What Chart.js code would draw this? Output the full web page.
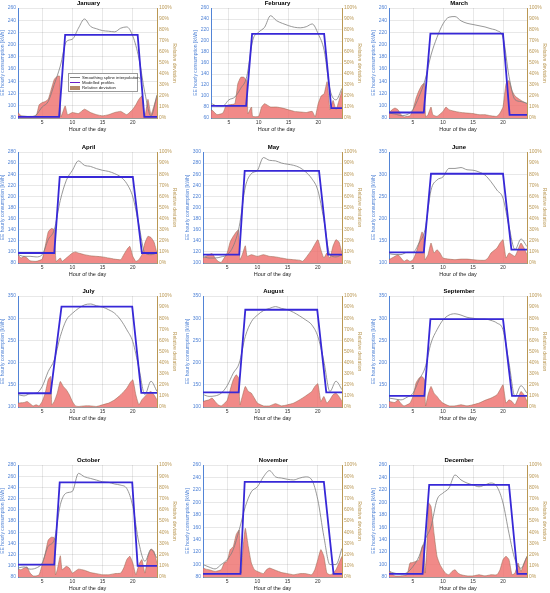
<!DOCTYPE html>
<html lang="en">
<head>
<meta charset="UTF-8">
<title>Monthly EE hourly consumption profiles</title>
<script src="https://cdn.jsdelivr.net/npm/chart.js@4"></script>
<style>
  body { margin: 0; background: #fff; width: 550px; height: 593px; position: relative; overflow: hidden;
         font-family: "Liberation Sans", Arial, sans-serif; }
  canvas { position: absolute; }
  /* legend box only on the January panel */
  .legenda { position: absolute; left: 68px; top: 73px; width: 66px; background: #fff; border: 0.6px solid #9a9a9a;
             font-size: 4.3px; line-height: 5.4px; padding: 0.5px 1px; color: #222; }
  .legenda div { white-space: nowrap; }
  .legenda span { display: inline-block; width: 10px; margin-right: 2px; vertical-align: middle; }
</style>
</head>
<body>
<div class="legenda">
  <div><span style="border-top:0.8px solid #808080"></span>Smoothing spline interpolation</div>
  <div><span style="border-top:1.4px solid #6a1fc8"></span>Modelled profiles</div>
  <div><span style="height:3.6px;background:#b58a6c"></span>Relative deviation</div>
</div>
<script>
// ---- data ----
const months = ["January", "February", "March", "April", "May", "June",
  "July", "August", "September", "October", "November", "December"];
const yMin = [80, 60, 80, 80, 100, 100, 100, 100, 100, 80, 80, 80];
const yMax = [260, 260, 260, 280, 300, 350, 350, 350, 350, 280, 260, 260];
const yStep = [20, 20, 20, 20, 20, 50, 50, 50, 50, 20, 20, 20];
const xStart = [1, 2, 1, 1, 1, 1, 1, 1, 1, 1, 1, 1];
const hourTicks = [5, 10, 15, 20];
const hours = [1, 2, 3, 4, 5, 6, 7, 8, 9, 10, 11, 12, 13, 14, 15, 16, 17, 18, 19, 20, 21, 22, 23, 24];

// smoothing spline (kWh) at each hour
const splineJan = [83, 83, 82, 85, 98, 107, 135, 165, 205, 209, 227, 242, 230, 226, 223, 222, 221, 227, 229, 214, 178, 121, 83, 118];
const splineFeb = [86, 86, 82, 82, 93, 98, 114, 135, 201, 216, 225, 246, 237, 232, 228, 225, 224, 226, 231, 213, 183, 111, 93, 114];
const splineMar = [88, 86.5, 84, 85.5, 94, 115, 142, 183, 212, 234, 245, 246, 239, 235, 233, 231, 229, 226, 223, 212, 148, 110, 107, 104];
const splineApr = [95, 92, 92, 91, 95, 122, 140, 193, 229, 247, 264, 256, 254, 250, 247, 245, 241, 235, 223, 199, 149, 98, 95, 98];
const splineMay = [112, 109, 109, 111, 115, 130, 166, 237, 261, 267, 290, 285, 284, 280, 278, 276, 272, 264, 252, 231, 178, 115, 111, 115];
const splineJun = [121, 119, 119, 124, 124, 145, 175, 264, 287, 294, 313, 313, 315, 310, 309, 305, 298, 283, 264, 246, 182, 130, 154, 137];
const splineJul = [128, 125, 130, 131, 146, 180, 206, 259, 296, 311, 322, 330, 332, 328, 325, 319, 311, 296, 274, 247, 188, 128, 158, 135];
const splineAug = [128, 124, 125, 131, 148, 176, 199, 259, 292, 307, 317, 322, 326, 322, 319, 313, 305, 296, 285, 259, 203, 135, 158, 139];
const splineSep = [120, 118, 116, 122, 131, 161, 188, 244, 274, 296, 307, 310, 307, 302, 300, 298, 298, 295, 289, 274, 199, 124, 148, 131];
const splineOct = [96, 98, 94, 96, 105, 135, 146, 209, 230, 233, 265, 259, 256, 253, 250, 249, 246, 244, 238, 206, 141, 108, 129, 114];
const splineNov = [100, 96, 93, 100, 108, 124, 156, 193, 217, 225, 241, 251, 241, 239, 237, 236, 239, 241, 236, 204, 145, 100, 100, 126];
const splineDec = [89, 86, 85, 87, 97, 113, 140, 161, 204, 215, 223, 244, 236, 231, 228, 225, 228, 231, 225, 199, 150, 108, 94, 113];

// modelled profile corners [hour, kWh]
const modelJan = [[1, 82], [7.8, 82], [8.8, 216], [20.8, 216], [21.9, 82], [24, 82]];
const modelFeb = [[1, 82], [7.9, 82], [8.9, 213], [21, 213], [22.2, 78], [24, 78]];
const modelMar = [[1, 89], [6.8, 89], [7.9, 218], [20, 218], [21.1, 85], [24, 85]];
const modelApr = [[1, 98], [7, 98], [7.9, 235], [20, 235], [21.5, 98], [24, 98]];
const modelMay = [[1, 115], [7, 115], [7.9, 266], [20.2, 266], [21.7, 115], [24, 115]];
const modelJun = [[1, 124], [6.8, 124], [8, 301], [20, 301], [21.4, 130], [24, 130]];
const modelJul = [[1, 131], [6.4, 131], [8.2, 326], [19.9, 326], [21.4, 132], [24, 132]];
const modelAug = [[1, 133], [6.9, 133], [8, 319], [19.9, 319], [21.4, 133], [24, 133]];
const modelSep = [[1, 125], [6.9, 125], [7.9, 298], [20, 298], [21.5, 125], [24, 125]];
const modelOct = [[1, 102], [7, 102], [7.9, 249], [19.9, 249], [20.8, 100], [24, 100]];
const modelNov = [[1, 85], [7.2, 85], [7.9, 233], [21, 233], [22.6, 85], [24, 85]];
const modelDec = [[1, 85], [6.6, 85], [7.7, 228], [21, 228], [22.4, 85], [24, 85]];

// relative deviation [hour, %]
const devJan = [[1, 5], [1.5, 2], [2, 1.5], [3, 1.5], [4, 2], [4.5, 12], [5, 14], [5.5, 15], [6, 17], [6.5, 26], [7, 35], [7.5, 38], [7.9, 38], [8.1, 1], [8.8, 11], [9.2, 3], [10, 5], [11, 4], [12, 8], [13, 5], [14, 3], [15, 2], [16, 3], [17, 5], [18, 6], [19, 3], [20, 8], [20.5, 12], [21, 17], [21.5, 20], [22, 1], [22.5, 17], [23, 3], [23.5, 11], [24, 20]];
const devFeb = [[1, 7], [2.2, 7], [3, 3], [4, 4.5], [4.5, 11], [5, 12], [6, 13], [6.5, 31], [7, 37], [7.5, 37], [8, 34], [8.2, 4], [8.8, 10], [9, 1.5], [10, 1.5], [10.5, 10], [11, 13], [12, 10], [13, 10], [14, 9], [15, 7.5], [16, 6], [17, 5.5], [18, 5], [19, 6], [19.5, 1], [20, 13], [20.5, 20], [21, 22], [21.5, 33], [22, 7.5], [22.5, 16], [23, 7.5], [23.5, 16], [24, 25]];
const devMar = [[1, 4.5], [1.5, 7.5], [2, 9], [2.5, 7.5], [3, 3], [3.5, 1], [4, 1.5], [4.5, 2], [5, 7.5], [5.5, 18], [6, 25], [6.5, 30], [6.9, 31.5], [7.1, 1], [7.5, 3], [8, 10], [8.3, 3], [9, 1.5], [10, 6], [10.5, 10], [11, 7.5], [12, 6], [13, 5], [14, 4.5], [15, 4], [16, 3], [17, 3], [18, 2], [19, 1.5], [19.5, 4.5], [20, 10], [20.5, 31], [21, 34], [21.5, 25], [22, 20], [23, 16], [24, 13]];
const devApr = [[1, 7.5], [1.5, 4.5], [2, 6], [2.5, 4.5], [3, 2], [4, 1.5], [5, 3.5], [5.5, 15], [6, 28], [6.5, 31], [7, 30], [7.3, 1.5], [8, 4.5], [8.3, 1.5], [9, 4.5], [10, 9], [10.5, 10], [11, 9], [12, 7.5], [13, 6.5], [14, 6], [15, 5.5], [16, 4.5], [17, 3.5], [18, 3], [18.5, 7.5], [19, 12], [19.5, 15], [20, 6], [20.5, 1.5], [21, 3], [21.5, 7.5], [22, 18], [22.5, 24], [23, 23], [23.5, 19], [24, 9]];
const devMay = [[1, 4.5], [2, 7.5], [2.5, 8.5], [3, 4.5], [3.5, 1.5], [4, 0.5], [4.5, 4.5], [5, 9], [5.5, 19], [6, 24], [6.5, 28], [6.9, 30], [7.1, 3], [7.5, 7.5], [8, 15.5], [8.3, 6], [9, 7.5], [10, 6], [11, 7.5], [12, 6], [13, 5.5], [14, 4.5], [15, 3.5], [16, 3], [17, 2.5], [17.5, 1.5], [18, 4.5], [19, 12], [20, 21], [20.5, 12], [21, 4.5], [21.5, 9], [22, 4.5], [22.5, 15], [23, 21], [23.5, 19], [24, 9]];
const devJun = [[1, 3], [2, 6], [2.5, 7.5], [3, 4.5], [3.5, 1.5], [4, 3], [4.5, 1.5], [5, 3], [5.5, 9], [6, 18], [6.5, 28], [6.8, 24], [7, 3], [7.5, 7.5], [8, 18], [8.5, 9], [9, 12], [9.5, 9], [10, 4.5], [11, 3.5], [12, 3], [13, 3.5], [14, 3.5], [15, 3], [16, 2.5], [17, 2.5], [17.5, 4.5], [18, 9], [19, 13.5], [19.5, 18], [20, 21], [20.5, 4.5], [21, 9], [21.5, 7.5], [22, 6], [22.5, 12], [23, 18], [23.5, 13.5], [24, 7.5]];
const devJul = [[1, 3.5], [2, 4], [2.5, 5], [3, 3], [3.5, 1], [4, 2], [4.5, 1], [5, 5], [5.5, 12.5], [6, 24.5], [6.4, 27.5], [6.6, 2], [7, 5], [7.5, 12.5], [8, 23], [8.5, 18.5], [9, 15.5], [9.5, 11], [10, 5], [10.5, 1], [11, 0.5], [12, 1], [13, 1], [14, 0.5], [15, 2], [16, 3.5], [17, 6.5], [18, 11], [19, 17], [19.5, 21.5], [20, 24.5], [20.5, 11], [21, 2], [21.5, 6.5], [22, 9.5], [22.5, 12.5], [23, 14], [23.5, 11], [24, 6.5]];
const devAug = [[1, 5], [2, 6.5], [2.5, 8], [3, 5], [3.5, 2], [4, 1], [4.5, 3], [5, 6], [5.5, 15.5], [6, 24.5], [6.5, 29], [6.9, 26], [7.1, 2], [7.5, 9.5], [8, 18.5], [8.5, 14], [9, 12.5], [9.5, 8], [10, 3.5], [11, 1], [12, 1], [13, 3], [14, 1], [15, 2], [16, 3.5], [17, 6.5], [18, 10], [19, 14], [19.5, 18.5], [20, 21], [20.5, 5], [21, 9.5], [21.5, 3.5], [22, 6.5], [22.5, 11], [23, 12.5], [23.5, 9.5], [24, 5]];
const devSep = [[1, 5], [2, 4], [2.5, 6.5], [3, 3], [3.5, 1], [4, 2], [4.5, 3.5], [5, 9.5], [5.5, 21.5], [6, 26], [6.5, 27.5], [6.9, 24.5], [7.1, 1], [7.5, 11], [8, 18.5], [8.5, 12.5], [9, 9.5], [9.5, 6], [10, 3.5], [11, 1], [12, 1], [13, 2], [14, 1], [15, 2], [16, 3.5], [17, 6], [18, 8], [19, 11], [19.5, 15.5], [20, 20], [20.5, 3.5], [21, 6.5], [21.5, 5], [22, 2], [22.5, 8], [23, 14], [23.5, 11], [24, 5]];
const devOct = [[1, 7], [1.5, 6.5], [2, 8], [2.5, 9], [3, 3.5], [3.5, 1], [4, 1], [4.5, 2], [5, 11], [5.5, 21], [6, 33], [6.5, 35.5], [7, 35], [7.2, 2], [7.5, 6.5], [8, 19], [8.3, 6.5], [9, 9.5], [9.5, 8], [10, 3.5], [11, 7], [12, 6], [13, 4], [14, 3], [15, 2], [16, 2], [17, 3], [18, 3.5], [18.5, 8], [19, 15.5], [19.5, 18.5], [20, 12.5], [20.5, 2], [21, 11], [21.5, 15.5], [22, 3.5], [22.5, 18.5], [23, 25], [23.5, 23], [24, 12.5]];
const devNov = [[1, 8], [1.5, 7], [2, 6.5], [3, 5], [4, 6.5], [4.5, 12.5], [5, 14], [5.5, 24.5], [6, 27], [6.5, 38], [7, 42], [7.3, 3.5], [7.6, 24.5], [8, 43.5], [8.5, 27], [9, 12.5], [9.5, 6.5], [10, 5], [11, 3], [11.5, 6.5], [12, 8], [13, 6], [14, 4], [15, 3], [16, 2], [17, 3], [18, 3], [19, 2], [19.5, 6.5], [20, 15.5], [20.5, 24.5], [21, 18.5], [21.5, 3.5], [22, 2], [22.5, 3], [23, 6.5], [23.5, 12.5], [24, 18.5]];
const devDec = [[1, 6], [1.5, 3], [2, 1], [3, 1], [4, 2], [4.5, 12.5], [5, 13], [5.5, 14], [6, 15.5], [6.5, 27], [6.8, 29], [7, 3.5], [7.3, 24.5], [7.6, 66], [8, 63], [8.5, 39], [9, 18.5], [9.5, 11], [10, 6.5], [10.5, 3], [11, 2], [11.5, 5], [12, 6.5], [12.5, 3.5], [13, 2], [14, 1], [15, 1], [16, 2], [17, 1], [18, 2], [19, 2], [19.5, 6.5], [20, 15.5], [20.5, 18.5], [21, 15.5], [21.5, 2], [22, 3.5], [22.5, 12.5], [23, 5], [23.5, 12.5], [24, 18.5]];

const splines = [splineJan, splineFeb, splineMar, splineApr, splineMay, splineJun, splineJul, splineAug, splineSep, splineOct, splineNov, splineDec];
const models = [modelJan, modelFeb, modelMar, modelApr, modelMay, modelJun, modelJul, modelAug, modelSep, modelOct, modelNov, modelDec];
const devs = [devJan, devFeb, devMar, devApr, devMay, devJun, devJul, devAug, devSep, devOct, devNov, devDec];

// ---- layout (plot area of each panel, page pixels) ----
const colLeft = [18, 203, 389];
const colRight = [157, 342, 527];
const rowTop = [8, 152, 296, 465];
const rowBottom = [118, 263, 407, 577];
const LEFT_W = 18, RIGHT_W = 20, TITLE_H = 9, XAXIS_H = 15;

const FONT = "'Liberation Sans', Arial, sans-serif";
const BLUE_AX = "rgb(82,132,214)";
const TAN_AX = "rgb(186,152,84)";
const GRID = "rgba(0,0,0,0.09)";

function toXY(pairs) {
  return pairs.map((p) => ({ x: p[0], y: p[1] }));
}

months.forEach((month, i) => {
  const col = i % 3, row = Math.floor(i / 3);
  let left = colLeft[col];
  if (i === 1) left = 211; // February plot is narrower (starts at hour 2)
  const right = colRight[col];
  const canvas = document.createElement("canvas");
  const w = right - left + LEFT_W + RIGHT_W;
  const h = rowBottom[row] - rowTop[row] + TITLE_H + XAXIS_H;
  canvas.width = w;
  canvas.height = h;
  canvas.style.left = left - LEFT_W + "px";
  canvas.style.top = rowTop[row] - TITLE_H + "px";
  document.body.insertBefore(canvas, document.body.firstChild);

  new Chart(canvas.getContext("2d"), {
    type: "line",
    data: {
      datasets: [
        {
          label: "Modelled profiles",
          data: toXY(models[i]),
          yAxisID: "y",
          borderColor: "rgb(55,40,215)",
          borderWidth: 1.8,
          pointRadius: 0,
          tension: 0,
        },
        {
          label: "Smoothing spline interpolation",
          data: hours.map((hr, k) => ({ x: hr, y: splines[i][k] })),
          yAxisID: "y",
          borderColor: "rgb(125,125,125)",
          borderWidth: 0.8,
          pointRadius: 0,
          cubicInterpolationMode: "monotone",
        },
        {
          label: "Relative deviation",
          data: toXY(devs[i]),
          yAxisID: "y1",
          borderColor: "rgba(150,105,80,0.9)",
          borderWidth: 0.6,
          backgroundColor: "rgba(238,112,110,0.82)",
          fill: "origin",
          pointRadius: 0,
          tension: 0.15,
        },
      ],
    },
    options: {
      responsive: false,
      animation: false,
      layout: { padding: 0 },
      plugins: {
        legend: { display: false },
        tooltip: { enabled: false },
        title: {
          display: true,
          text: month,
          color: "#000",
          font: { family: FONT, size: 6, weight: "bold", lineHeight: 1.2 },
          padding: { top: 1, bottom: 0.8 },
        },
      },
      scales: {
        x: {
          type: "linear",
          min: xStart[i],
          max: 24,
          afterBuildTicks: (s) => { s.ticks = hourTicks.map((v) => ({ value: v })); },
          afterFit: (s) => { s.height = XAXIS_H; },
          grid: { color: GRID, drawTicks: false },
          border: { color: "#999" },
          ticks: { color: "#333", padding: 2, font: { family: FONT, size: 5 } },
          title: { display: true, text: "Hour of the day", color: "#222", padding: 0, font: { family: FONT, size: 5.5 } },
        },
        y: {
          position: "left",
          min: yMin[i],
          max: yMax[i],
          afterFit: (s) => { s.width = LEFT_W; },
          grid: { color: GRID, drawTicks: false },
          border: { color: BLUE_AX },
          ticks: { stepSize: yStep[i], color: BLUE_AX, padding: 2, font: { family: FONT, size: 5 } },
          title: { display: true, text: "EE hourly consumption [kWh]", color: BLUE_AX, padding: 0, font: { family: FONT, size: 5 } },
        },
        y1: {
          position: "right",
          min: 0,
          max: 100,
          afterFit: (s) => { s.width = RIGHT_W; },
          grid: { drawOnChartArea: false, drawTicks: false },
          border: { color: TAN_AX },
          ticks: { stepSize: 10, color: TAN_AX, padding: 2, font: { family: FONT, size: 5 }, callback: (v) => v + "%" },
          title: { display: true, text: "Relative deviation", color: TAN_AX, padding: 0, font: { family: FONT, size: 5 } },
        },
      },
    },
  });
});
</script>
</body>
</html>
